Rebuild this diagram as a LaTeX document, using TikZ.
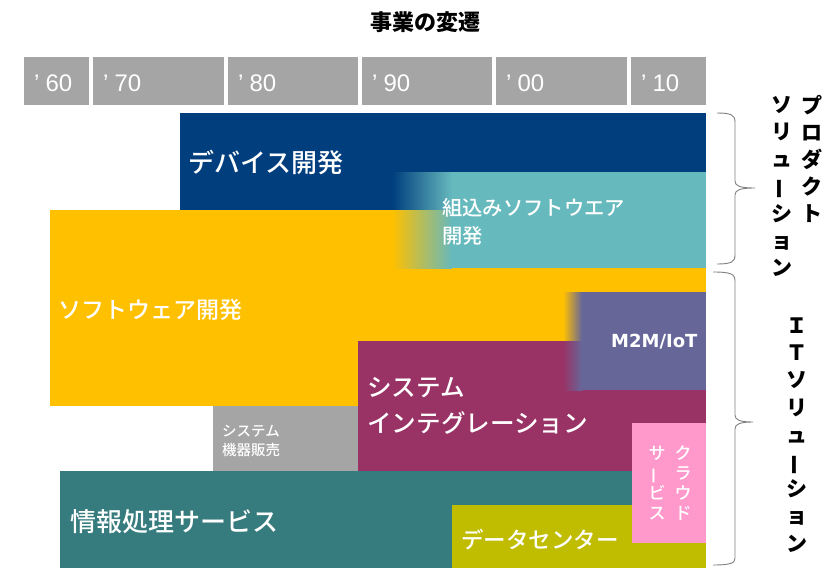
\documentclass[tikz,border=0pt]{standalone}
\usepackage{fontspec}
\usepackage{graphicx}
\setmainfont{Noto Sans CJK JP}
\newfontfamily\medfont{Noto Sans CJK JP Medium}
\newfontfamily\decfont{Liberation Sans}
\newfontfamily\dejafont{DejaVu Sans}
\definecolor{decgray}{RGB}{165,165,165}
\definecolor{navyc}{RGB}{0,62,126}
\definecolor{tealc}{RGB}{102,185,189}
\definecolor{yelc}{RGB}{255,192,0}
\definecolor{slatec}{RGB}{102,102,153}
\definecolor{purc}{RGB}{153,51,102}
\definecolor{dtealc}{RGB}{54,123,126}
\definecolor{pinkc}{RGB}{255,153,204}
\definecolor{olivec}{RGB}{192,188,0}
\definecolor{bracec}{RGB}{128,128,128}
\newcommand{\vbar}{\rotatebox[origin=c]{90}{ー}}
\tikzset{
  decbox/.style={fill=decgray, draw=none, anchor=north west, minimum height=48pt, inner sep=0},
  declab/.style={anchor=west, text=white, inner sep=0, font=\decfont\fontsize{24}{24}\selectfont},
  wlab/.style={anchor=west, text=white, inner sep=0, align=left},
  vlab/.style={inner sep=0, align=center, font=\bfseries\fontsize{21}{27.2}\selectfont},
  brace/.style={draw=bracec, line width=0.9pt}
}
\begin{document}
\begin{tikzpicture}[x=1pt,y=-1pt]
\useasboundingbox (0,0) rectangle (822,568);
% title
\node[font=\bfseries\fontsize{22}{22}\selectfont, inner sep=0] (title) at (425,22) {事業の変遷};
% decades
\node[decbox, minimum width=65pt] (d60) at (24,57) {};
\node[decbox, minimum width=131pt] (d70) at (93,57) {};
\node[decbox, minimum width=130pt] (d80) at (228,57) {};
\node[decbox, minimum width=130pt] (d90) at (362,57) {};
\node[decbox, minimum width=131pt] (d00) at (496,57) {};
\node[decbox, minimum width=75pt] (d10) at (631,57) {};
\node[declab] (l60) at ([xshift=10pt,yshift=-2pt]d60.west) {’\hspace{6pt}60};
\node[declab] (l70) at ([xshift=10pt,yshift=-2pt]d70.west) {’\hspace{6pt}70};
\node[declab] (l80) at ([xshift=10pt,yshift=-2pt]d80.west) {’\hspace{6pt}80};
\node[declab] (l90) at ([xshift=10pt,yshift=-2pt]d90.west) {’\hspace{6pt}90};
\node[declab] (l00) at ([xshift=10pt,yshift=-2pt]d00.west) {’\hspace{6pt}00};
\node[declab] (l10) at ([xshift=10pt,yshift=-2pt]d10.west) {’\hspace{6pt}10};
% areas
\fill[navyc] (180,113) rectangle (706,210);
\fill[yelc] (50,210) rectangle (706,406);
\fill[tealc] (450,172) rectangle (706,268);
\shade[left color=navyc, right color=tealc] (392,172) rectangle (452,210.5);
\shade[left color=yelc, right color=tealc] (392,210) rectangle (452,268);
\fill[purc] (358,341) rectangle (706,471);
\fill[slatec] (580,292) rectangle (706,390);
\shade[left color=yelc, right color=slatec] (563,292) rectangle (582,341.5);
\shade[left color=purc, right color=slatec] (563,341) rectangle (582,390);
\fill[decgray] (213,406) rectangle (358,471);
\fill[dtealc] (60,471) rectangle (632,568);
\fill[olivec] (452,505) rectangle (706,568);
\fill[pinkc] (632,423) rectangle (706,543);
% labels
\node[wlab, font=\medfont\fontsize{26}{26}\selectfont] (dev) at (188,162) {デバイス開発};
\node[wlab, font=\medfont\fontsize{20.3}{28}\selectfont] (emb) at (442,222) {組込みソフトウエア\\開発};
\node[wlab, font=\medfont\fontsize{23}{23}\selectfont] (sw) at (58,310) {ソフトウェア開発};
\node[wlab, font=\medfont\fontsize{24.6}{36}\selectfont] (si) at (367,406) {システム\\インテグレーション};
\node[wlab, font=\medfont\fontsize{14.5}{18.5}\selectfont] (sales) at (222,441) {システム\\機器販売};
\node[wlab, font=\dejafont\bfseries\fontsize{18}{18}\selectfont] (m2m) at (611,342) {M2M/IoT};
\node[wlab, font=\medfont\fontsize{26}{26}\selectfont] (info) at (70,522) {情報処理サービス};
\node[wlab, font=\medfont\fontsize{22.5}{22.5}\selectfont] (dc) at (461,540) {データセンター};
\node[inner sep=0, align=center, text=white, font=\medfont\fontsize{17}{20}\selectfont] (cloud1) at (683,483) {ク\\ラ\\ウ\\ド};
\node[inner sep=0, align=center, text=white, font=\medfont\fontsize{17}{20}\selectfont] (cloud2) at (657,483) {サ\\\vbar\\ビ\\ス};
% right side
\draw[brace] (717,113) .. controls (731,113) and (735,115) .. (735,122) -- (735,181) .. controls (735,186) and (740,188) .. (755,188) .. controls (740,188) and (735,190) .. (735,195) -- (735,255) .. controls (735,262) and (731,264) .. (717,264);
\draw[brace] (713,272) .. controls (731,272) and (735,274) .. (735,281) -- (735,415) .. controls (735,420) and (740,422) .. (753,422) .. controls (740,422) and (735,424) .. (735,429) -- (735,558) .. controls (735,563) and (731,565) .. (713,565);
\node[vlab] (prod) at (812,159) {プ\\ロ\\ダ\\ク\\ト};
\node[vlab] (sol1) at (782,186.5) {ソ\\リ\\ュ\\\vbar\\シ\\ョ\\ン};
\node[vlab] (itsol) at (797,435) {Ｉ\\Ｔ\\ソ\\リ\\ュ\\\vbar\\シ\\ョ\\ン};
\end{tikzpicture}
\end{document}
